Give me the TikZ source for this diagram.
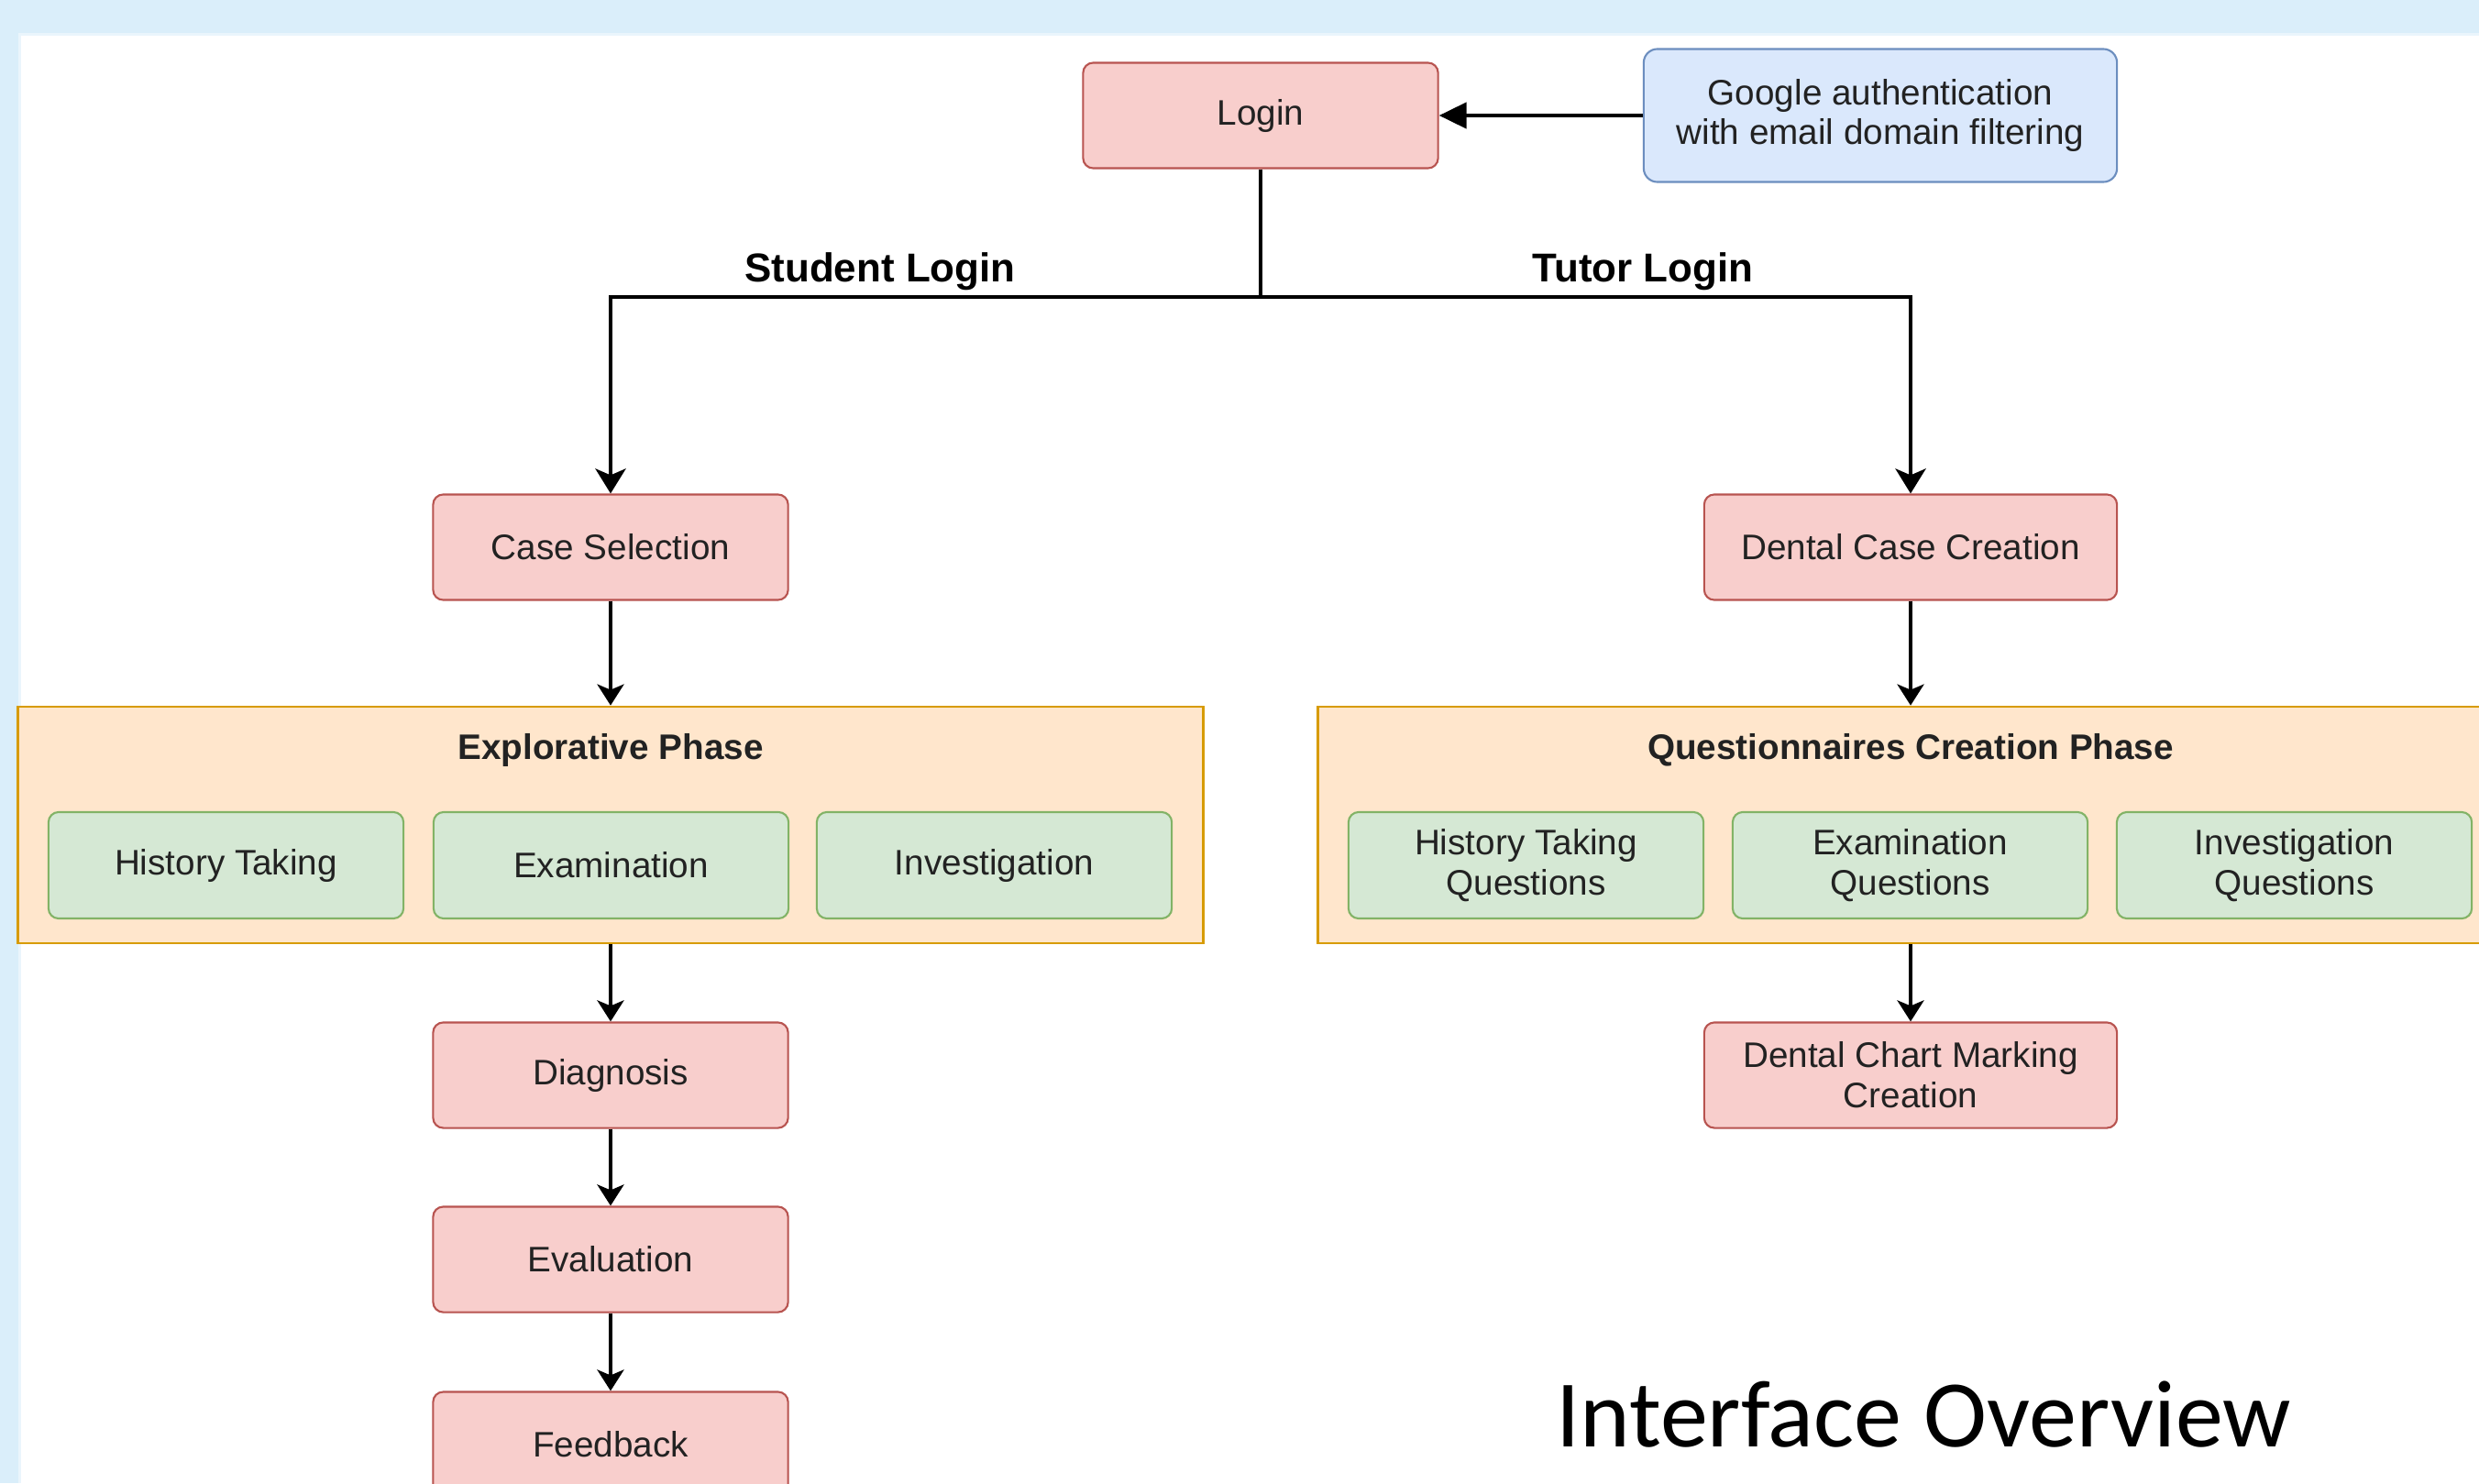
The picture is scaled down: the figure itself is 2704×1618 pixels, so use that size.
\documentclass[tikz,border=0pt]{standalone}
\usepackage{fontspec}
\setmainfont{Liberation Sans}
\newfontfamily\titlefont{Carlito}
\usetikzlibrary{arrows.meta}

\definecolor{bgblue}{HTML}{DAEEFA}
\definecolor{bgline}{HTML}{EAF5FC}
\definecolor{redfill}{HTML}{F8CECC}
\definecolor{reddraw}{HTML}{B85450}
\definecolor{greenfill}{HTML}{D5E8D4}
\definecolor{greendraw}{HTML}{82B366}
\definecolor{orangefill}{HTML}{FFE6CC}
\definecolor{orangedraw}{HTML}{D79B00}
\definecolor{bluefill}{HTML}{DAE8FC}
\definecolor{bluedraw}{HTML}{6C8EBF}
\definecolor{txt}{HTML}{222222}

\begin{document}
\begin{tikzpicture}[x=0.01cm,y=-0.01cm,
  redbox/.style={draw=reddraw,fill=redfill,line width=0.6pt,rounded corners=0.11cm,
    minimum width=3.87cm,minimum height=1.15cm,inner sep=0pt,align=center,
    text=txt,font=\fontsize{11}{12.5}\selectfont},
  widebox/.style={redbox,minimum width=4.5cm},
  greenbox/.style={redbox,draw=greendraw,fill=greenfill,minimum height=1.16cm},
  bluebox/.style={redbox,draw=bluedraw,fill=bluefill,rounded corners=0.15cm,
    minimum width=5.16cm,minimum height=1.45cm},
  phasebox/.style={draw=orangedraw,fill=orangefill,line width=0.75pt,
    minimum width=12.92cm,minimum height=2.58cm,inner sep=0pt},
  phasetitle/.style={font=\bfseries\fontsize{11}{13}\selectfont,text=txt},
  branch/.style={font=\bfseries\fontsize{12.5}{15}\selectfont,anchor=base},
  wire/.style={line width=1.3pt},
  bigtip/.style={wire,-{Stealth[length=0.27cm,width=0.33cm,inset=0.07cm]}},
  smalltip/.style={wire,-{Stealth[length=0.23cm,width=0.29cm,inset=0.06cm]}}]

% page and frame
\useasboundingbox (0,0) rectangle (2704,1618);
\clip (0,0) rectangle (2704,1618);
\fill[bgblue] (0,0) rectangle (2704,1618);
\fill[bgline] (20,36) rectangle (2704,1618);
\fill[white] (23,39) rectangle (2704,1618);

% login part
\node[redbox] (login) at (1375,126) {Login};
\node[bluebox] (google) at (2051,126) {Google authentication\\with email domain filtering};
\draw[wire,-{Triangle[length=0.3cm,width=0.28cm]}] (google) -- (login);

\coordinate (split) at (1375,324);
\node[redbox] (casesel) at (666,597) {Case Selection};
\node[widebox] (dentalcase) at (2084,597) {Dental Case Creation};
\draw[wire] (login.south) -- (split);
\draw[bigtip] (split) -| (casesel.north);
\draw[bigtip] (split) -| (dentalcase.north);
\node[branch] (student) at (960,307) {Student Login};
\node[branch] (tutor) at (1792,307) {Tutor Login};

% phases
\node[phasebox] (explore) at (666,900) {};
\node[phasetitle] (exploretitle) at (666,818) {Explorative Phase};
\node[greenbox] (htake) at (246.5,944) {History Taking};
\node[greenbox] (exam) at (666.5,944) {Examination};
\node[greenbox] (invest) at (1084.5,944) {Investigation};

\node[phasebox] (quest) at (2084,900) {};
\node[phasetitle] (questtitle) at (2084,818) {Questionnaires Creation Phase};
\node[greenbox] (htakeq) at (1664.5,944) {History Taking\\Questions};
\node[greenbox] (examq) at (2083.5,944) {Examination\\Questions};
\node[greenbox] (investq) at (2502.5,944) {Investigation\\Questions};

\draw[smalltip] (casesel) -- (explore);
\draw[smalltip] (dentalcase) -- (quest);

% student steps
\node[redbox] (diag) at (666,1173) {Diagnosis};
\node[redbox] (eval) at (666,1374) {Evaluation};
\node[redbox] (feed) at (666,1576) {Feedback};
\draw[smalltip] (explore) -- (diag);
\draw[smalltip] (diag) -- (eval);
\draw[smalltip] (eval) -- (feed);

% tutor step
\node[widebox] (chart) at (2084,1173) {Dental Chart Marking\\Creation};
\draw[smalltip] (quest) -- (chart);

\node[font=\titlefont\fontsize{29.6}{34}\selectfont,anchor=base] (title) at (2098,1578) {Interface Overview};
\end{tikzpicture}
\end{document}
